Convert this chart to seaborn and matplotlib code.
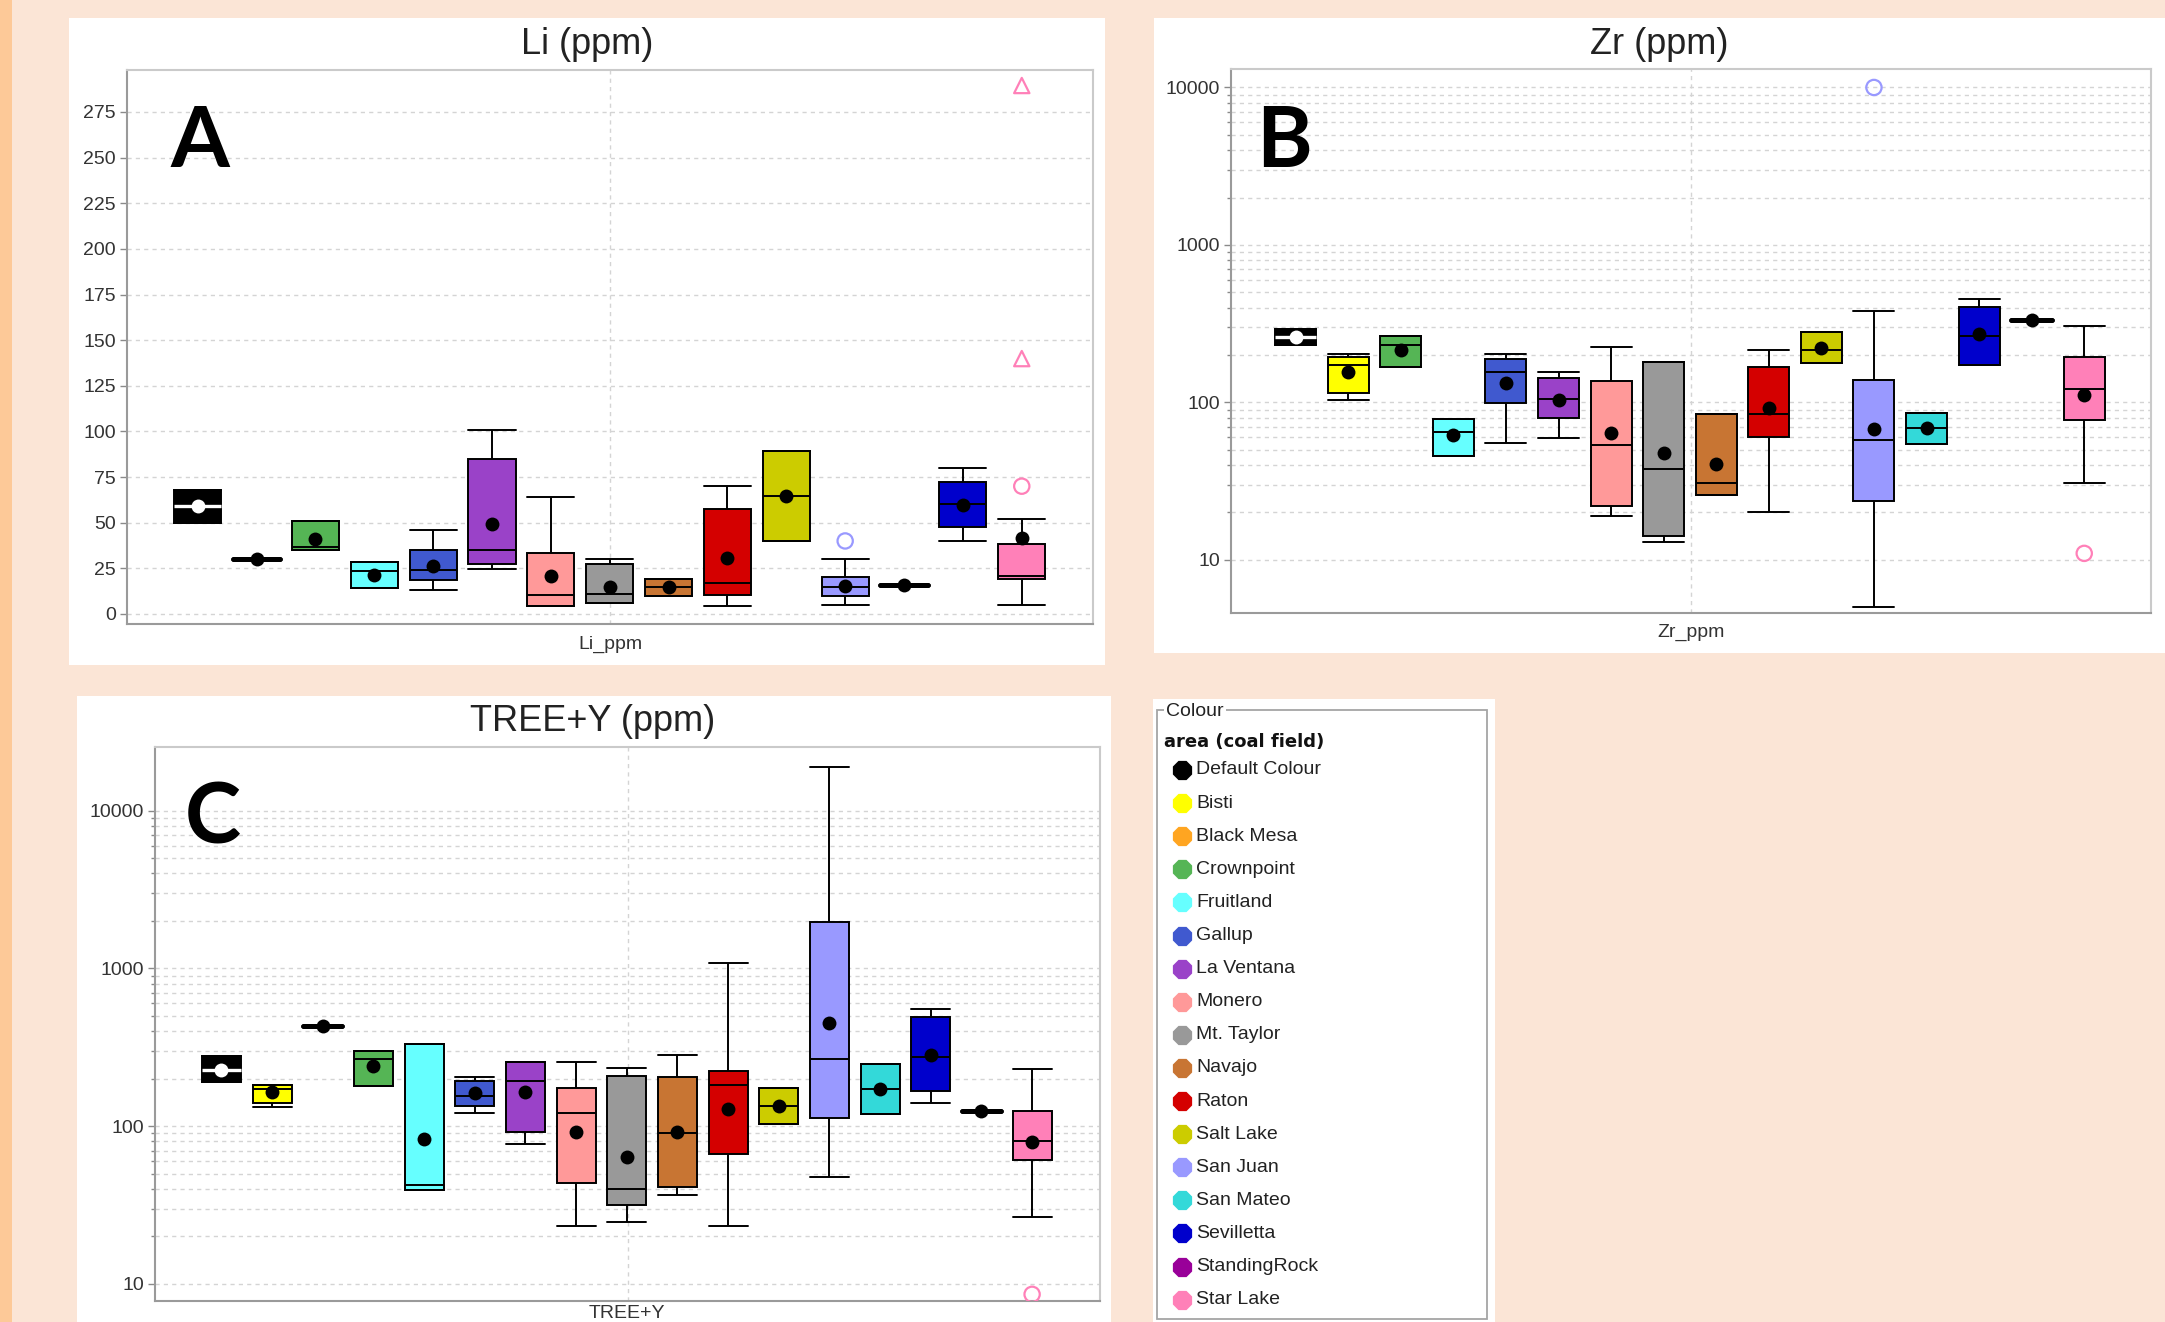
import numpy as np
import pandas as pd
import matplotlib
matplotlib.use("Agg")
import matplotlib.pyplot as plt
import matplotlib.ticker as mticker
from matplotlib.patches import Rectangle
import seaborn as sns

# ------------------------------------------------------------------ data
CATEGORIES = ["Default Colour", "Bisti", "Black Mesa", "Crownpoint", "Fruitland", "Gallup",
              "La Ventana", "Monero", "Mt. Taylor", "Navajo", "Raton", "Salt Lake",
              "San Juan", "San Mateo", "Sevilletta", "StandingRock", "Star Lake"]
COLOURS = ["#000000", "#FFFF00", "#FFA521", "#55B555", "#66FFFF", "#4059CF",
           "#9A42C8", "#FF9999", "#999999", "#C87533", "#D40000", "#CCCC00",
           "#9999FF", "#33D9D9", "#0000CC", "#990099", "#FF80B8"]

# Li (ppm)
LI_CATS = ["Default Colour", "Black Mesa", "Crownpoint", "Fruitland", "Gallup", "La Ventana",
           "Monero", "Mt. Taylor", "Navajo", "Raton", "Salt Lake", "San Juan", "San Mateo",
           "Sevilletta", "Star Lake"]
LI_LOW  = [50, 30, 35.0, 14.3, 13.3, 24.9, 4.1, 6.0, 9.9, 4.6, 40.0, 5.1, 15.6, 40.0, 5.1]
LI_Q1   = [50, 30, 35.0, 14.3, 18.6, 27.6, 4.6, 6.0, 9.9, 10.4, 40.0, 9.9, 15.6, 47.6, 19.1]
LI_MED  = [59, 30, 36.8, 23.7, 24.2, 35.0, 10.4, 11.0, 14.5, 16.8, 64.4, 15.0, 15.6, 60.3, 20.7]
LI_Q3   = [68, 30, 50.8, 28.3, 35.0, 84.9, 33.4, 27.2, 19.1, 57.3, 89.3, 20.0, 15.6, 72.5, 38.2]
LI_HIGH = [68, 30, 50.8, 28.3, 45.8, 100.8, 64.2, 30.1, 19.1, 70.0, 89.3, 30.1, 15.6, 80.1, 51.8]
LI_MEAN = [59, 30, 41.0, 21.4, 26.2, 49.2, 20.7, 15.0, 14.5, 30.4, 64.4, 15.2, 15.6, 59.8, 41.4]
LI_OUT_CAT = ["San Juan", "Star Lake"]
LI_OUT_VAL = [40.0, 70.0]
LI_FAR_CAT = ["Star Lake", "Star Lake"]
LI_FAR_VAL = [289.5, 139.9]

# Zr (ppm)
ZR_CATS = ["Default Colour", "Bisti", "Crownpoint", "Fruitland", "Gallup", "La Ventana",
           "Monero", "Mt. Taylor", "Navajo", "Raton", "Salt Lake", "San Juan", "San Mateo",
           "Sevilletta", "StandingRock", "Star Lake"]
ZR_LOW  = [230, 103, 167, 45.8, 55.6, 59.4, 19.1, 12.9, 25.9, 20.0, 177, 5.0, 54.3, 174, 335, 30.9]
ZR_Q1   = [230, 115, 167, 45.8, 99.0, 79.6, 22.0, 14.1, 25.9, 60.5, 177, 23.7, 54.3, 174, 335, 77.3]
ZR_MED  = [260, 172, 233, 65.2, 157, 105, 53.7, 37.7, 31.0, 84.5, 216, 58.1, 69.2, 263, 335, 121]
ZR_Q3   = [293, 194, 264, 79.0, 189, 143, 136, 181, 84.5, 167, 282, 139, 86.1, 406, 335, 194]
ZR_HIGH = [293, 202, 264, 79.0, 202, 155, 226, 181, 84.5, 216, 282, 380, 86.1, 454, 335, 305]
ZR_MEAN = [260, 156, 214, 61.7, 132, 104, 63.5, 47.5, 40.8, 92.7, 220, 67.9, 69.0, 271, 335, 111]
ZR_OUT_CAT = ["San Juan", "Star Lake"]
ZR_OUT_VAL = [10000.0, 11.0]

# TREE+Y (ppm)
TR_CATS = list(CATEGORIES)
TR_LOW  = [190, 133, 432, 179, 39.5, 122, 76.8, 23.2, 24.8, 36.4, 23.2, 103, 47.4, 119, 141, 124, 26.7]
TR_Q1   = [190, 141, 432, 179, 39.5, 134, 91.6, 43.5, 31.8, 41.4, 66.2, 103, 113, 119, 168, 124, 60.7]
TR_MED  = [228, 173, 432, 268, 42.2, 156, 192, 122, 39.7, 90.6, 183, 135, 268, 172, 275, 124, 80.5]
TR_Q3   = [279, 183, 432, 298, 331, 194, 255, 174, 208, 204, 223, 175, 1954, 248, 494, 124, 125]
TR_HIGH = [279, 183, 432, 298, 331, 204, 255, 256, 234, 284, 1079, 175, 18970, 248, 556, 124, 229]
TR_MEAN = [228, 165, 432, 241, 82.4, 163, 165, 91.6, 63.7, 92.1, 128, 135, 448, 172, 283, 124, 79.1]
TR_OUT_CAT = ["Star Lake"]
TR_OUT_VAL = [8.6]

# ------------------------------------------------------------------ style
sns.set_style("white")
plt.rcParams["font.family"] = ["Liberation Sans", "DejaVu Sans"]

W, H = 2165, 1322
BG = "#FBE5D6"
PALETTE = dict(zip(CATEGORIES, COLOURS))
MEAN_PAL = {c: ("white" if c == "Default Colour" else "black") for c in CATEGORIES}
GRID = dict(color="#d4d4d4", linestyle=(0, (3, 3)), linewidth=1.0)

fig = plt.figure(figsize=(W / 100, H / 100), dpi=100, facecolor=BG)


def add_rect(x0, y0, x1, y1, **kw):
    fig.add_artist(Rectangle((x0 / W, 1 - y1 / H), (x1 - x0) / W, (y1 - y0) / H,
                             transform=fig.transFigure, **kw))


def add_ax(x0, y0, x1, y1):
    return fig.add_axes([x0 / W, 1 - y1 / H, (x1 - x0) / W, (y1 - y0) / H])


def ftext(x, y, s, **kw):
    fig.text(x / W, 1 - y / H, s, **kw)


def widen_caps(ax, before, width):
    for ln in ax.lines:
        if ln in before:
            continue
        xd = np.asarray(ln.get_xdata(), float)
        yd = np.asarray(ln.get_ydata(), float)
        if len(xd) == 2 and yd[0] == yd[1]:
            span = abs(xd[1] - xd[0])
            if 0 < span < width * 0.95:
                c = xd.mean()
                ln.set_xdata([c - width / 2, c + width / 2])


def hollow_points(ax, cats, vals, order, marker, log):
    n0 = len(ax.collections)
    sns.stripplot(x=list(cats), y=list(vals), order=order, hue=list(cats), palette=PALETTE,
                  jitter=False, size=11, marker=marker, linewidth=0, legend=False,
                  log_scale=log, ax=ax, zorder=6)
    for coll in ax.collections[n0:]:
        fc = coll.get_facecolors()
        coll.set_edgecolors(fc)
        coll.set_facecolors("none")
        coll.set_linewidth(1.6)


def draw_panel(ax, cats, low, q1, med, q3, high, mean, out_cat, out_val,
               far_cat=None, far_val=None, log=False, width=0.8, ylim=None, pad=(1.2, 1.2)):
    order = list(cats)
    logs = (False, True) if log else None
    vals = np.column_stack([low, q1, med, q3, high]).ravel()
    df = pd.DataFrame({"area": np.repeat(order, 5), "value": vals})
    spread = np.asarray(high, float) - np.asarray(low, float)
    single = [c for c, s in zip(order, spread) if s == 0 and c != "Default Colour"]
    groups = [
        (df[~df["area"].isin(single + ["Default Colour"])], dict(linewidth=1.4)),
        (df[df["area"] == "Default Colour"],
         dict(linewidth=1.4, medianprops=dict(color="white", linewidth=2.4))),
        (df[df["area"].isin(single)], dict(linewidth=3.4)),
    ]
    for sub, kw in groups:
        if sub.empty:
            continue
        before = set(ax.lines)
        sns.boxplot(data=sub, x="area", y="value", hue="area", order=order, palette=PALETTE,
                    saturation=1, whis=(0, 100), showfliers=False, width=width,
                    linecolor="black", legend=False, log_scale=logs, ax=ax, **kw)
        widen_caps(ax, before, width)

    sns.stripplot(x=order, y=list(mean), order=order, hue=order, palette=MEAN_PAL,
                  jitter=False, size=10, linewidth=0, legend=False, log_scale=logs,
                  ax=ax, zorder=7)
    if out_cat:
        hollow_points(ax, out_cat, out_val, order, "o", logs)
    if far_cat:
        hollow_points(ax, far_cat, far_val, order, "^", logs)

    n = len(order)
    x0, x1 = -pad[0], n - 1 + pad[1]
    ax.set_xlim(x0, x1)
    ax.set_ylim(*ylim)
    ax.set_xticks([])
    ax.set_xlabel("")
    ax.set_ylabel("")
    ax.grid(False)
    ax.set_axisbelow(True)
    if log:
        ax.set_yscale("log")
        ax.set_ylim(*ylim)
        ax.yaxis.set_major_locator(mticker.FixedLocator([10, 100, 1000, 10000]))
        ax.yaxis.set_major_formatter(mticker.FuncFormatter(lambda v, p: f"{int(round(v))}"))
        minors = [m * 10 ** k for k in (1, 2, 3) for m in range(2, 10)]
        ax.yaxis.set_minor_locator(mticker.FixedLocator(minors))
        ax.yaxis.set_minor_formatter(mticker.NullFormatter())
        ax.yaxis.grid(True, which="both", **GRID)
    else:
        ax.yaxis.set_major_locator(mticker.MultipleLocator(25))
        ax.yaxis.set_major_formatter(mticker.FuncFormatter(lambda v, p: f"{int(round(v))}"))
        ax.yaxis.grid(True, which="major", **GRID)
    ax.axvline((x0 + x1) / 2, zorder=0.5, **GRID)
    ax.tick_params(axis="y", which="major", direction="out", length=5, width=1,
                   color="#8a8a8a", labelsize=14, labelcolor="#333333", pad=3, left=True)
    ax.tick_params(axis="y", which="minor", direction="out", length=3, width=1,
                   color="#8a8a8a", left=True)
    ax.tick_params(axis="x", bottom=False, labelbottom=False)
    for side in ("left", "bottom"):
        ax.spines[side].set_color("#9a9a9a")
        ax.spines[side].set_linewidth(1.5)
    for side in ("top", "right"):
        ax.spines[side].set_color("#cacaca")
        ax.spines[side].set_linewidth(1.5)
    ax.set_facecolor("white")


# ------------------------------------------------------------------ background
add_rect(0, 0, 12, H, facecolor="#FDC998", edgecolor="none", zorder=-2)
add_rect(69, 18, 1105, 665, facecolor="white", edgecolor="none", zorder=-1)
add_rect(1154, 18, 2165, 653, facecolor="white", edgecolor="none", zorder=-1)
add_rect(77, 696, 1111, 1322, facecolor="white", edgecolor="none", zorder=-1)
add_rect(1153, 699, 1495, 1322, facecolor="white", edgecolor="none", zorder=-1)

# ------------------------------------------------------------------ panels
axA = add_ax(127, 70, 1093, 624)
draw_panel(axA, LI_CATS, LI_LOW, LI_Q1, LI_MED, LI_Q3, LI_HIGH, LI_MEAN,
           LI_OUT_CAT, LI_OUT_VAL, LI_FAR_CAT, LI_FAR_VAL, log=False, width=0.8,
           ylim=(-5.5, 298), pad=(1.2, 1.21))

axB = add_ax(1231, 69, 2151, 613)
draw_panel(axB, ZR_CATS, ZR_LOW, ZR_Q1, ZR_MED, ZR_Q3, ZR_HIGH, ZR_MEAN,
           ZR_OUT_CAT, ZR_OUT_VAL, log=True, width=0.78,
           ylim=(4.6, 13100), pad=(1.23, 1.27))

axC = add_ax(155, 747, 1100, 1301)
draw_panel(axC, TR_CATS, TR_LOW, TR_Q1, TR_MED, TR_Q3, TR_HIGH, TR_MEAN,
           TR_OUT_CAT, TR_OUT_VAL, log=True, width=0.77,
           ylim=(7.8, 25300), pad=(1.31, 1.34))

# titles, axis names and panel letters
TITLE_KW = dict(fontsize=26, color="#222222", ha="center", va="baseline")
ftext(587, 54, "Li (ppm)", **TITLE_KW)
ftext(1659, 54, "Zr (ppm)", **TITLE_KW)
ftext(593, 731, "TREE+Y (ppm)", **TITLE_KW)

XL_KW = dict(fontsize=14, color="#333333", ha="center", va="baseline")
ftext(610, 649, "Li_ppm", **XL_KW)
ftext(1691, 637, "Zr_ppm", **XL_KW)
ftext(627, 1318, "TREE+Y", **XL_KW)

LET_KW = dict(fontsize=61, fontweight="bold", family=["Lato", "DejaVu Sans"],
              color="black", ha="left", va="baseline")
ftext(170, 167, "A", **LET_KW)
ftext(1256, 167, "B", **LET_KW)
ftext(185, 843, "C", **LET_KW)

# ------------------------------------------------------------------ legend panel
axL = add_ax(1153, 699, 1495, 1322)
axL.set_xlim(1153, 1495)
axL.set_ylim(1322, 699)
axL.axis("off")
axL.add_patch(Rectangle((1157, 710), 330, 609, fill=False, edgecolor="#a5a5a5",
                        linewidth=1.3, clip_on=False))
axL.text(1166, 712, "Colour", fontsize=14, color="#222222", ha="left", va="center",
         bbox=dict(facecolor="white", edgecolor="none", pad=1.5), zorder=3)
axL.text(1164, 742, "area (coal field)", fontsize=13, fontweight="bold",
         family=["DejaVu Sans"], color="#111111", ha="left", va="center")
for i, (name, col) in enumerate(zip(CATEGORIES, COLOURS)):
    yy = 770 + i * 33.1
    axL.scatter([1182], [yy], marker="8", s=15 ** 2, color=col, linewidths=0, clip_on=False)
    axL.text(1196, yy, name, fontsize=14, color="#222222", ha="left", va="center")

fig.savefig("out.png", dpi=100, facecolor=BG)
